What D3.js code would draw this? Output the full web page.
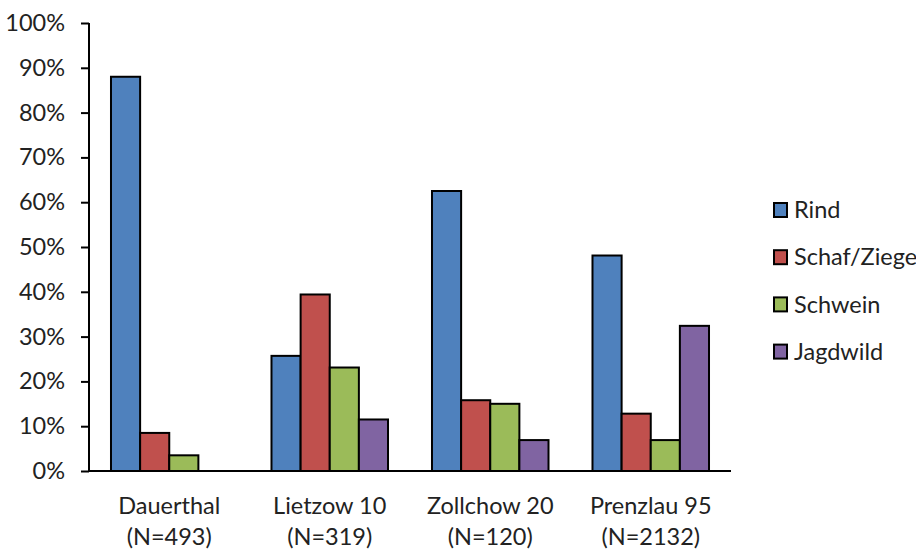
<!DOCTYPE html>
<html><head><meta charset="utf-8">
<script src="https://cdn.jsdelivr.net/npm/d3@7"></script>
<style>body{margin:0;background:#fff;} text{font-family:Lato,"Open Sans",sans-serif;fill:#222;}</style>
</head><body>
<svg id="c" width="916" height="550"></svg>
<script>
const categories = ["Dauerthal", "Lietzow 10", "Zollchow 20", "Prenzlau 95"];
const categoryN = ["(N=493)", "(N=319)", "(N=120)", "(N=2132)"];
const seriesNames = ["Rind", "Schaf/Ziege", "Schwein", "Jagdwild"];
const rind = [88.0, 25.7, 62.5, 48.1];
const schafZiege = [8.5, 39.4, 15.8, 12.8];
const schwein = [3.5, 23.1, 15.0, 6.9];
const jagdwild = [0, 11.5, 6.9, 32.4];
const colors = ["#4F81BD", "#C0504D", "#9BBB59", "#8064A2"];
const yTicks = [0, 10, 20, 30, 40, 50, 60, 70, 80, 90, 100];

const seriesValues = [rind, schafZiege, schwein, jagdwild];
const svg = d3.select("#c");
const pLeft = 89, pRight = 731, pTop = 23, pBottom = 471;
const fs = "23.5px";

const x0 = d3.scaleBand().domain(categories).range([pLeft, pRight]).paddingInner(0.274).paddingOuter(0.137);
const x1 = d3.scaleBand().domain(seriesNames).range([0, x0.bandwidth()]);
const y = d3.scaleLinear().domain([0, 100]).range([pBottom, pTop]);

// bars
categories.forEach((cat, ci) => {
  const g = svg.append("g").attr("transform", `translate(${x0(cat)},0)`);
  seriesNames.forEach((s, si) => {
    const v = seriesValues[si][ci];
    if (v <= 0) return;
    g.append("rect")
      .attr("x", x1(s)).attr("y", y(v))
      .attr("width", x1.bandwidth()).attr("height", y(0) - y(v))
      .attr("fill", colors[si]).attr("stroke", "#000").attr("stroke-width", 2);
  });
});

// y axis
const yAxis = svg.append("g").attr("transform", `translate(${pLeft},0)`)
  .call(d3.axisLeft(y).tickValues(yTicks).tickSize(8).tickPadding(16).tickFormat(d => d + "%"));
yAxis.select(".domain").attr("stroke", "#000").attr("stroke-width", 2).attr("d", `M0,${pTop}V${pBottom}`);
yAxis.selectAll(".tick line").attr("stroke", "#000").attr("stroke-width", 2);
yAxis.selectAll(".tick text").style("font-size", fs).attr("fill", "#222");

// x axis
const xAxis = svg.append("g").attr("transform", `translate(0,${pBottom})`)
  .call(d3.axisBottom(x0).tickSize(0).tickFormat(""));
xAxis.select(".domain").attr("stroke", "#000").attr("stroke-width", 2).attr("d", `M${pLeft},0H${pRight}`);
categories.forEach((cat, ci) => {
  const cx = x0(cat) + x0.bandwidth() / 2;
  svg.append("text").attr("x", cx).attr("y", 514).attr("text-anchor", "middle").style("font-size", fs).text(cat);
  svg.append("text").attr("x", cx).attr("y", 545).attr("text-anchor", "middle").style("font-size", fs).text(categoryN[ci]);
});

// legend
const legend = svg.append("g");
seriesNames.forEach((s, i) => {
  const cy = 210 + i * 47.2;
  legend.append("rect").attr("x", 774).attr("y", cy - 7).attr("width", 13).attr("height", 14)
    .attr("fill", colors[i]).attr("stroke", "#000").attr("stroke-width", 2);
  legend.append("text").attr("x", 794).attr("y", cy).attr("dy", "0.35em").style("font-size", fs).text(s);
});
</script>
</body></html>
